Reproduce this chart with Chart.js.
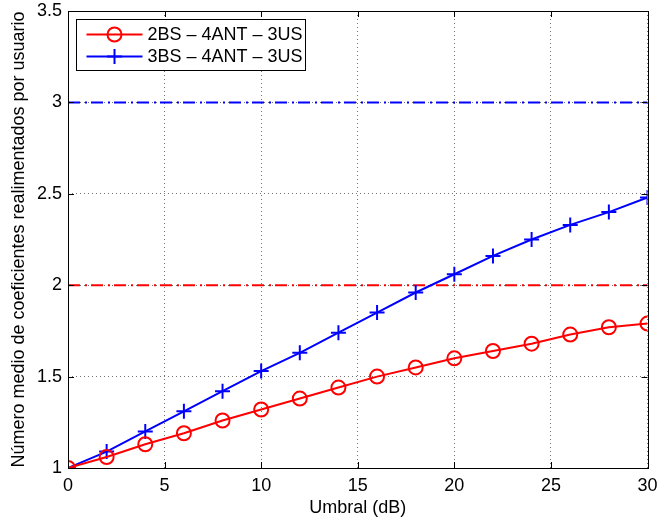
<!DOCTYPE html>
<html>
<head>
<meta charset="utf-8">
<script src="https://cdn.jsdelivr.net/npm/chart.js@4/dist/chart.umd.min.js"></script>
<style>
  html, body { margin: 0; padding: 0; background: #fff; }
</style>
</head>
<body>
<canvas id="chart" width="657" height="521"></canvas>
<script>
// Umbral (dB) en el eje x
const umbral = [0, 2, 4, 6, 8, 10, 12, 14, 16, 18, 20, 22, 24, 26, 28, 30];
// Número medio de coeficientes realimentados por usuario
const coef2BS = [1.00, 1.06, 1.13, 1.19, 1.26, 1.32, 1.38, 1.44, 1.50, 1.55, 1.60, 1.64, 1.68, 1.73, 1.77, 1.79];
const coef3BS = [1.00, 1.09, 1.20, 1.31, 1.42, 1.53, 1.63, 1.74, 1.85, 1.96, 2.06, 2.16, 2.25, 2.33, 2.40, 2.48];
// cotas máximas (número de estaciones base - 1)
const limite2BS = 2;
const limite3BS = 3;
const etiquetas = ['2BS \u2013 4ANT \u2013 3US', '3BS \u2013 4ANT \u2013 3US'];
const xTicks = [0, 5, 10, 15, 20, 25, 30];
const yTicks = [1, 1.5, 2, 2.5, 3, 3.5];

const RED = '#ff0000';
const BLUE = '#0000ff';
const FONT = 'Liberation Sans, Arial, Helvetica, sans-serif';

const pts = (xs, ys) => xs.map((x, i) => ({ x, y: ys[i] }));
const hline = v => [{ x: xTicks[0], y: v }, { x: xTicks[xTicks.length - 1], y: v }];

// recuadro, marcas hacia dentro y leyenda al estilo MATLAB
const matlabFrame = {
  id: 'matlabFrame',
  afterDraw(chart) {
    const { ctx, chartArea: a, scales } = chart;
    ctx.save();
    ctx.strokeStyle = '#000';
    ctx.lineWidth = 1;
    ctx.setLineDash([]);
    ctx.strokeRect(Math.round(a.left) + 0.5, Math.round(a.top) + 0.5,
      Math.round(a.right - a.left), Math.round(a.bottom - a.top));
    const tl = 6;
    ctx.beginPath();
    xTicks.forEach(v => {
      const px = Math.round(scales.x.getPixelForValue(v)) + 0.5;
      ctx.moveTo(px, a.bottom); ctx.lineTo(px, a.bottom - tl);
      ctx.moveTo(px, a.top); ctx.lineTo(px, a.top + tl);
    });
    yTicks.forEach(v => {
      const py = Math.round(scales.y.getPixelForValue(v)) + 0.5;
      ctx.moveTo(a.left, py); ctx.lineTo(a.left + tl, py);
      ctx.moveTo(a.right, py); ctx.lineTo(a.right - tl, py);
    });
    ctx.stroke();

    // leyenda
    const lx = 76.5, ly = 19.5, lw = 229, lh = 51;
    ctx.fillStyle = '#fff';
    ctx.fillRect(lx, ly, lw, lh);
    ctx.strokeRect(lx, ly, lw, lh);
    ctx.font = '18px ' + FONT;
    ctx.textBaseline = 'middle';
    ctx.textAlign = 'left';
    const rows = [
      { y: ly + 15, color: RED, marker: 'circle', label: etiquetas[0] },
      { y: ly + 37, color: BLUE, marker: 'cross', label: etiquetas[1] }
    ];
    rows.forEach(r => {
      ctx.strokeStyle = r.color;
      ctx.lineWidth = 2;
      ctx.beginPath();
      ctx.moveTo(lx + 10, r.y); ctx.lineTo(lx + 66, r.y);
      ctx.stroke();
      const cx = lx + 38;
      ctx.beginPath();
      if (r.marker === 'circle') {
        ctx.arc(cx, r.y, 7, 0, Math.PI * 2);
      } else {
        ctx.moveTo(cx - 7.5, r.y); ctx.lineTo(cx + 7.5, r.y);
        ctx.moveTo(cx, r.y - 7.5); ctx.lineTo(cx, r.y + 7.5);
      }
      ctx.stroke();
      ctx.fillStyle = '#000';
      ctx.fillText(r.label, lx + 71, r.y + 1);
    });
    ctx.restore();
  }
};

new Chart(document.getElementById('chart'), {
  type: 'scatter',
  data: {
    datasets: [
      {
        label: etiquetas[0],
        data: pts(umbral, coef2BS),
        showLine: true,
        borderColor: RED,
        backgroundColor: 'rgba(0,0,0,0)',
        borderWidth: 2,
        pointStyle: 'circle',
        pointRadius: 7,
        pointBorderWidth: 2,
        pointBorderColor: RED,
        pointBackgroundColor: 'rgba(0,0,0,0)'
      },
      {
        label: etiquetas[1],
        data: pts(umbral, coef3BS),
        showLine: true,
        borderColor: BLUE,
        backgroundColor: BLUE,
        borderWidth: 2,
        pointStyle: 'cross',
        pointRadius: 7.5,
        pointBorderWidth: 2,
        pointBorderColor: BLUE
      },
      {
        label: 'cota 2BS',
        data: hline(limite2BS),
        showLine: true,
        borderColor: RED,
        borderWidth: 2,
        borderDash: [12, 5, 2, 4],
        pointRadius: 0
      },
      {
        label: 'cota 3BS',
        data: hline(limite3BS),
        showLine: true,
        borderColor: BLUE,
        borderWidth: 2,
        borderDash: [12, 5, 2, 4],
        pointRadius: 0
      }
    ]
  },
  options: {
    responsive: false,
    animation: false,
    devicePixelRatio: 1,
    layout: { padding: { left: 0, top: 11, right: 9, bottom: 0 } },
    plugins: {
      legend: { display: false },
      tooltip: { enabled: false }
    },
    scales: {
      x: {
        type: 'linear',
        min: 0,
        max: 30,
        afterBuildTicks: s => { s.ticks = xTicks.map(value => ({ value })); },
        afterFit: s => { s.height = 53; s.paddingLeft = 0; s.paddingRight = 0; },
        grid: { color: 'rgba(0,0,0,0.55)', lineWidth: 1, drawTicks: false, borderDash: [1, 3] },
        border: { display: false, dash: [1, 3] },
        ticks: { color: '#000', padding: 7, font: { family: FONT, size: 18 }, callback: v => String(v) },
        title: { display: true, text: 'Umbral (dB)', color: '#000', font: { family: FONT, size: 18 }, padding: { top: 0, bottom: 2 } }
      },
      y: {
        type: 'linear',
        min: 1,
        max: 3.5,
        afterBuildTicks: s => { s.ticks = yTicks.map(value => ({ value })); },
        afterFit: s => { s.width = 68; s.paddingTop = 0; s.paddingBottom = 0; },
        grid: { color: 'rgba(0,0,0,0.55)', lineWidth: 1, drawTicks: false, borderDash: [1, 3] },
        border: { display: false, dash: [1, 3] },
        ticks: { color: '#000', padding: 6, font: { family: FONT, size: 18 }, callback: v => String(v) },
        title: { display: true, text: 'Número medio de coeficientes realimentados por usuario', color: '#000', font: { family: FONT, size: 18 }, padding: { top: 8, bottom: 0 } }
      }
    }
  },
  plugins: [matlabFrame]
});
</script>
</body>
</html>
